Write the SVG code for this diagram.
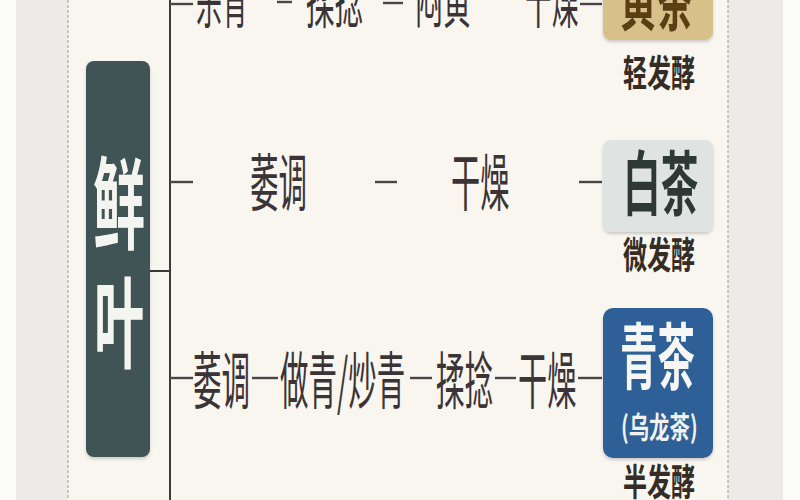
<svg xmlns="http://www.w3.org/2000/svg" width="800" height="500" viewBox="0 0 800 500">
<defs>
<style>
.proc{font-family:"Noto Sans CJK SC","Noto Sans",sans-serif;font-size:62px;fill:#3b3436;font-weight:400}
.name{font-family:"Noto Sans CJK SC","Noto Sans",sans-serif;font-weight:700}
.ferm{font-family:"Noto Sans CJK SC","Noto Sans",sans-serif;font-size:37px;font-weight:700;fill:#352d25}
.dash{stroke:#4a4546;stroke-width:2.4}
.trunk{stroke:#3a3a3a;stroke-width:2;fill:none}
.edge{stroke:#9a9a9a;stroke-width:1;stroke-dasharray:3 2}
</style>
<filter id="sh" x="-10%" y="-10%" width="120%" height="120%">
<feDropShadow dx="0" dy="2" stdDeviation="1.5" flood-color="#000" flood-opacity="0.18"/>
</filter>
</defs>
<rect x="0" y="0" width="800" height="500" fill="#fbfbfa"/>
<rect x="16" y="0" width="52" height="500" fill="#ecebe8"/>
<rect x="728" y="0" width="55" height="500" fill="#ecebe8"/>
<rect x="68" y="0" width="660" height="500" fill="#f9f6f0"/>
<line class="edge" x1="68" y1="0" x2="68" y2="500"/>
<line class="edge" x1="728" y1="0" x2="728" y2="500"/>

<g id="connectors">
<line class="trunk" x1="170" y1="0" x2="170" y2="500"/>
<line class="trunk" x1="150" y1="271" x2="170" y2="271"/>
<line class="dash" x1="170" y1="4" x2="193" y2="4"/>
<line class="dash" x1="277" y1="2" x2="292" y2="2"/>
<line class="dash" x1="383" y1="3" x2="403" y2="3"/>
<line class="dash" x1="580" y1="4" x2="602" y2="4"/>
<line class="dash" x1="170" y1="182" x2="193" y2="182"/>
<line class="dash" x1="375" y1="182" x2="397" y2="182"/>
<line class="dash" x1="579" y1="182" x2="602" y2="182"/>
<line class="dash" x1="170" y1="378" x2="193" y2="378"/>
<line class="dash" x1="252" y1="378" x2="278" y2="378"/>
<line class="dash" x1="410" y1="378" x2="432" y2="378"/>
<line class="dash" x1="495" y1="378" x2="516" y2="378"/>
<line class="dash" x1="578" y1="378" x2="602" y2="378"/>
</g>

<g id="fresh-leaf">
<rect x="86" y="61" width="64" height="396" rx="8" fill="#3f5254" filter="url(#sh)"/>
<text class="name" font-size="100" fill="#f4f4f0" transform="translate(93,241) scale(0.52,1)">鲜</text>
<text class="name" font-size="100" fill="#f4f4f0" transform="translate(94,360) scale(0.5,1)">叶</text>
</g>

<g id="row-yellow">
<text class="proc" transform="translate(196,23) scale(0.42,1)">杀青</text>
<text class="proc" transform="translate(306,23) scale(0.46,1)">揉捻</text>
<text class="proc" transform="translate(415,23) scale(0.45,1)">闷黄</text>
<text class="proc" transform="translate(525,23) scale(0.43,1)">干燥</text>
</g>
<g id="yellow-tea">
<rect x="603" y="-60" width="110" height="100" rx="8" fill="#d8c08b" filter="url(#sh)"/>
<text class="name" font-size="70" fill="#5b3f14" transform="translate(620,25) scale(0.52,1)">黄茶</text>
<text class="ferm" transform="translate(623,87) scale(0.65,1)">轻发酵</text>
</g>

<g id="row-white">
<text class="proc" transform="translate(250,206) scale(0.46,1)">萎调</text>
<text class="proc" transform="translate(451,206) scale(0.47,1)">干燥</text>
</g>
<g id="white-tea">
<rect x="603" y="140" width="110" height="92" rx="8" fill="#dfe3e1" filter="url(#sh)"/>
<text class="name" font-size="70" fill="#2e3936" transform="translate(623,210) scale(0.54,1)">白茶</text>
<text class="ferm" transform="translate(623,269) scale(0.65,1)">微发酵</text>
</g>

<g id="row-oolong">
<text class="proc" transform="translate(193,404) scale(0.46,1)">萎调</text>
<text class="proc" transform="translate(280,404) scale(0.46,1)">做青/炒青</text>
<text class="proc" transform="translate(436,404) scale(0.46,1)">揉捻</text>
<text class="proc" transform="translate(518,404) scale(0.47,1)">干燥</text>
</g>
<g id="oolong-tea">
<rect x="603" y="308" width="110" height="150" rx="10" fill="#2d5f96" filter="url(#sh)"/>
<text class="name" font-size="72" fill="#f6f7f4" transform="translate(620,383) scale(0.52,1)">青茶</text>
<text class="name" font-size="30" fill="#f0f2ee" transform="translate(621,438) scale(0.68,1)">(乌龙茶)</text>
<text class="ferm" transform="translate(623,496) scale(0.65,1)">半发酵</text>
</g>
</svg>
